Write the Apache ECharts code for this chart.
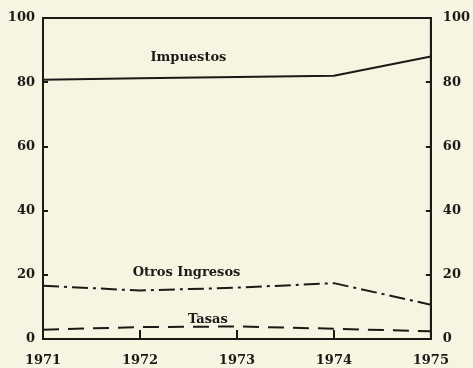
<!DOCTYPE html>
<html>
<head>
<meta charset="utf-8">
<script src="https://cdn.jsdelivr.net/npm/echarts@6/dist/echarts.min.js"></script>
<style>
  html, body { margin: 0; padding: 0; background: #f8f4e2; }
  #chart { width: 473px; height: 368px; }
</style>
</head>
<body>
<div id="chart"></div>
<script>
// Years along the bottom axis
const years = [1971, 1972, 1973, 1974, 1975];
// Percentage shares of each revenue source
const impuestos = [80.8, 81.2, 81.6, 82.0, 88.0];
const otrosIngresos = [16.6, 15.1, 16.0, 17.4, 10.7];
const tasas = [2.9, 3.7, 3.9, 3.2, 2.4];
// Y tick labels
const yTicks = [0, 20, 40, 60, 80, 100];

const ink = '#1c1a17';
const font = 'DejaVu Serif';

function pairs(vals) {
  return years.map((y, i) => [y, vals[i]]);
}

// Series name written inside the plot next to its line
function seriesLabel(text, x, y) {
  return {
    silent: true,
    symbol: 'rect',
    symbolSize: [1, 1],
    itemStyle: { color: 'rgba(0,0,0,0)' },
    label: {
      show: true,
      position: 'inside',
      formatter: text,
      color: ink,
      fontFamily: font,
      fontWeight: 'bold',
      fontSize: 13
    },
    data: [{ coord: [x, y], value: 0 }]
  };
}

const yAxisBase = {
  type: 'value',
  min: 0,
  max: 100,
  interval: 20,
  axisLine: { show: true, lineStyle: { color: ink, width: 2 } },
  axisTick: { show: true, inside: true, length: 5, lineStyle: { color: ink, width: 2 } },
  splitLine: { show: false },
  axisLabel: {
    color: ink,
    fontFamily: font,
    fontWeight: 'bold',
    fontSize: 13,
    formatter: v => yTicks.includes(v) ? String(v) : ''
  }
};

const chart = echarts.init(document.getElementById('chart'));
chart.setOption({
  backgroundColor: '#f8f4e2',
  animation: false,
  grid: {
    left: 43, right: 41, top: 18, bottom: 29,
    show: true, borderColor: ink, borderWidth: 2
  },
  xAxis: {
    type: 'value',
    min: 1971,
    max: 1975,
    interval: 1,
    axisLine: { show: true, lineStyle: { color: ink, width: 2 } },
    axisTick: { show: true, inside: true, length: 9, lineStyle: { color: ink, width: 2 } },
    splitLine: { show: false },
    axisLabel: {
      color: ink,
      fontFamily: font,
      fontWeight: 'bold',
      fontSize: 13,
      margin: 15,
      formatter: v => String(v)
    }
  },
  yAxis: [
    Object.assign({}, yAxisBase, { position: 'left' }),
    Object.assign({}, yAxisBase, { position: 'right', axisLabel: Object.assign({}, yAxisBase.axisLabel, { margin: 12 }) })
  ],
  series: [
    {
      name: 'Impuestos',
      type: 'line',
      data: pairs(impuestos),
      symbol: 'none',
      lineStyle: { color: ink, width: 2, type: 'solid' },
      markPoint: seriesLabel('Impuestos', 1972.5, 87.8)
    },
    {
      name: 'Otros Ingresos',
      type: 'line',
      data: pairs(otrosIngresos),
      symbol: 'none',
      lineStyle: { color: ink, width: 2, type: [16, 5, 3, 5] },
      markPoint: seriesLabel('Otros Ingresos', 1972.48, 20.6)
    },
    {
      name: 'Tasas',
      type: 'line',
      data: pairs(tasas),
      symbol: 'none',
      lineStyle: { color: ink, width: 2, type: [16, 9] },
      markPoint: seriesLabel('Tasas', 1972.7, 6.0)
    }
  ]
});
</script>
</body>
</html>
